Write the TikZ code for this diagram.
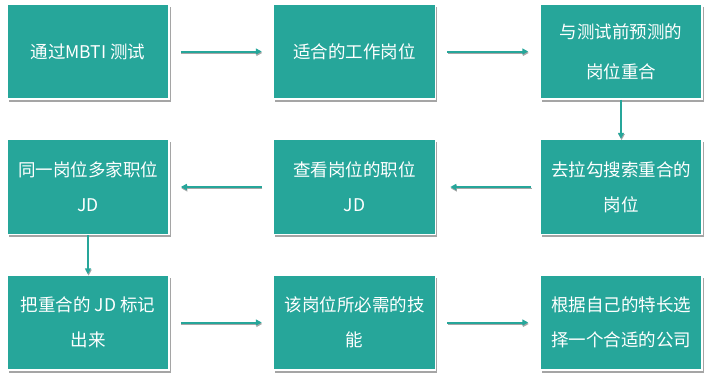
\documentclass[tikz,border=0pt]{standalone}
\usepackage{fontspec}
\newfontfamily\cjk{Noto Sans CJK SC}
\usepackage{tikz}
\usetikzlibrary{arrows.meta, positioning, shadows}
\definecolor{stepTeal}{RGB}{38,166,154}
\tikzset{
  stepbox/.style={rectangle,fill=stepTeal,draw=white,line width=1.5pt,
    minimum width=162pt,minimum height=95pt,inner sep=0pt,align=center,
    text=white,font=\cjk\fontsize{17.5}{35}\selectfont,
    drop shadow={shadow xshift=1.5pt,shadow yshift=-2.5pt,opacity=0.5,fill=black!70}},
  flowarr/.style={-{Triangle[length=6pt,width=6pt]},line width=2pt,color=stepTeal,
    preaction={draw=black!35,transform canvas={shift={(0.6pt,-1.4pt)}}}}
}
\begin{document}
\begin{tikzpicture}[x=1pt,y=-1pt,node distance=39pt and 103pt]
  \useasboundingbox (0,0) rectangle (706,378);

  %% Row 1
  \node[stepbox] (mbti) at (88,51.5) {通过MBTI 测试};
  \node[stepbox,right=of mbti] (fitjob) {适合的工作岗位};
  \node[stepbox,right=of fitjob,font=\cjk\fontsize{17.5}{40}\selectfont] (match)
    {与测试前预测的\\岗位重合};

  %% Row 2
  \node[stepbox,below=of match] (lagou) {去拉勾搜索重合的\\岗位};
  \node[stepbox,below=of fitjob] (viewjd) {查看岗位的职位\\JD};
  \node[stepbox,below=of mbti] (multijd) {同一岗位多家职位\\JD};

  %% Row 3
  \node[stepbox,below=of multijd] (markjd) {把重合的 JD 标记\\出来};
  \node[stepbox,below=of viewjd] (skill) {该岗位所必需的技\\能};
  \node[stepbox,below=of lagou] (company) {根据自己的特长选\\择一个合适的公司};

  %% Connectors
  \draw[flowarr,shorten <=11pt,shorten >=11pt] (mbti) -- (fitjob);
  \draw[flowarr,shorten <=11pt,shorten >=11pt] (fitjob) -- (match);
  \draw[flowarr] (match) -- (lagou);
  \draw[flowarr,shorten <=8pt,shorten >=14pt] (lagou) -- (viewjd);
  \draw[flowarr,shorten <=11pt,shorten >=11pt] (viewjd) -- (multijd);
  \draw[flowarr] (multijd) -- (markjd);
  \draw[flowarr,shorten <=11pt,shorten >=11pt] (markjd) -- (skill);
  \draw[flowarr,shorten <=11pt,shorten >=11pt] (skill) -- (company);
\end{tikzpicture}
\end{document}
